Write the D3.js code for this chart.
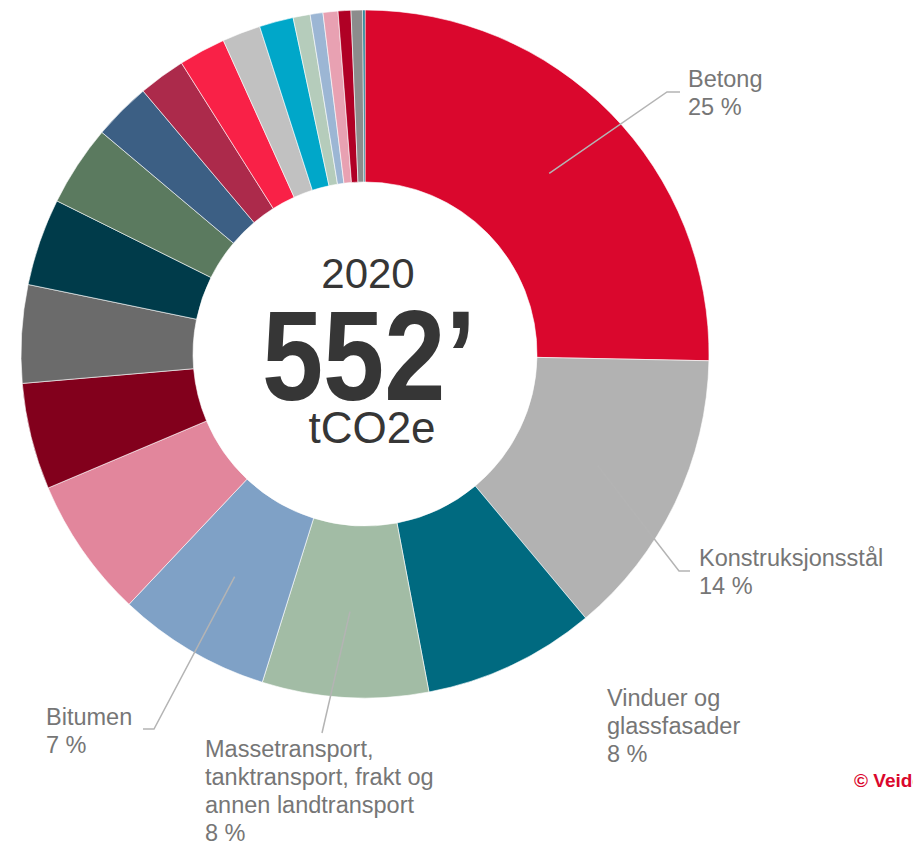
<!DOCTYPE html>
<html>
<head>
<meta charset="utf-8">
<script src="https://cdn.jsdelivr.net/npm/d3@7"></script>
<style>
  body { margin: 0; background: #fff; overflow: hidden; }
  svg { display: block; font-family: "Liberation Sans", Arial, sans-serif; }
</style>
</head>
<body>
<div id="chart"></div>
<script>
// share of emissions per category, clockwise from 12 o'clock (percent of 552' tCO2e)
const categories = [
  "Betong", "Konstruksjonsstål", "Vinduer og glassfasader",
  "Massetransport, tanktransport, frakt og annen landtransport", "Bitumen",
  "Kategori 6", "Kategori 7", "Kategori 8", "Kategori 9", "Kategori 10",
  "Kategori 11", "Kategori 12", "Kategori 13", "Kategori 14", "Kategori 15",
  "Kategori 16", "Kategori 17", "Kategori 18", "Kategori 19", "Kategori 20", "Kategori 21"
];
const shares = [25.3, 13.6, 8.1, 7.8, 7.2, 6.6, 5.0, 4.6, 4.1, 3.8, 2.7, 2.2, 2.2, 1.8, 1.6, 0.8, 0.6, 0.7, 0.6, 0.55, 0.1];
const sliceColors = [
  "#DA072D", "#B2B2B2", "#006A80", "#A2BCA5", "#7FA1C6",
  "#E2869C", "#82001C", "#6B6B6B", "#003B4A", "#5B7A5F",
  "#3C5F84", "#AC2A4B", "#F92147", "#C1C1C1", "#00A7C9",
  "#B5CCBB", "#9CB6D4", "#E8A1B2", "#B00025", "#8C8C8C", "#006A80"
];
const centerYear = "2020";
const centerTotal = "552’";
const centerUnit = "tCO2e";

// label text lines for the annotated slices
const labelLines = {
  "Betong": ["Betong"],
  "Konstruksjonsstål": ["Konstruksjonsstål"],
  "Vinduer og glassfasader": ["Vinduer og", "glassfasader"],
  "Massetransport, tanktransport, frakt og annen landtransport": ["Massetransport,", "tanktransport, frakt og", "annen landtransport"],
  "Bitumen": ["Bitumen"]
};

const width = 913, height = 845;
const cx = 365, cy = 354;
const outerR = 344, innerR = 172;

const svg = d3.select("#chart")
  .append("svg")
    .attr("width", width)
    .attr("height", height);

const g = svg.append("g")
  .attr("transform", `translate(${cx},${cy})`);

const data = categories.map((c, i) => ({name: c, value: shares[i], color: sliceColors[i]}));

const pie = d3.pie()
  .sort(null)
  .value(d => d.value);

const arc = d3.arc()
  .innerRadius(innerR)
  .outerRadius(outerR);

const arcs = pie(data);

g.selectAll("path.slice")
  .data(arcs)
  .join("path")
    .attr("class", "slice")
    .attr("d", arc)
    .attr("fill", d => d.data.color)
    .attr("stroke", "#fff")
    .attr("stroke-width", 0.6);

// label placement (text anchor + leader end), relative to the page
const labelLayout = {
  "Betong": {x: 688, y: 87, lead: [[667, 92], [680, 92]]},
  "Konstruksjonsstål": {x: 699, y: 566, lead: [[679, 571], [690, 571]]},
  "Vinduer og glassfasader": {x: 607, y: 706, lead: null},
  "Massetransport, tanktransport, frakt og annen landtransport": {x: 205, y: 757, lead: [[322, 733]]},
  "Bitumen": {x: 46, y: 725, lead: [[154, 729], [143, 729]]}
};

const total = d3.sum(shares);
const lineH = 28;

arcs.forEach(a => {
  const lay = labelLayout[a.data.name];
  if (!lay) return;
  if (lay.lead) {
    const c = arc.centroid(a);
    const pts = [[c[0] + cx, c[1] + cy]].concat(lay.lead);
    svg.append("path")
      .attr("d", d3.line()(pts))
      .attr("fill", "none")
      .attr("stroke", "#B4B4B4")
      .attr("stroke-width", 1.5);
  }
  const lines = labelLines[a.data.name].concat([Math.round(a.data.value / total * 100) + " %"]);
  const t = svg.append("text")
    .attr("x", lay.x)
    .attr("y", lay.y)
    .style("font-size", "23.5px")
    .style("fill", "#767676");
  lines.forEach((l, i) => {
    t.append("tspan")
      .attr("x", lay.x)
      .attr("y", lay.y + i * lineH)
      .text(l);
  });
});

// center text
svg.append("text")
  .attr("x", cx + 3)
  .attr("y", 288)
  .attr("text-anchor", "middle")
  .style("font-size", "42px")
  .style("fill", "#363636")
  .text(centerYear);

svg.append("text")
  .attr("text-anchor", "middle")
  .attr("transform", `translate(${cx + 4},400) scale(0.86,1)`)
  .style("font-size", "128px")
  .style("font-weight", "bold")
  .style("fill", "#363636")
  .text(centerTotal);

svg.append("text")
  .attr("x", cx + 7)
  .attr("y", 443)
  .attr("text-anchor", "middle")
  .style("font-size", "44px")
  .style("fill", "#363636")
  .text(centerUnit);

// copyright, cut at the right edge as in the original
svg.append("text")
  .attr("x", 854)
  .attr("y", 787)
  .style("font-size", "19px")
  .style("font-weight", "bold")
  .style("fill", "#DA072D")
  .text("© Veidekke");
</script>
</body>
</html>
